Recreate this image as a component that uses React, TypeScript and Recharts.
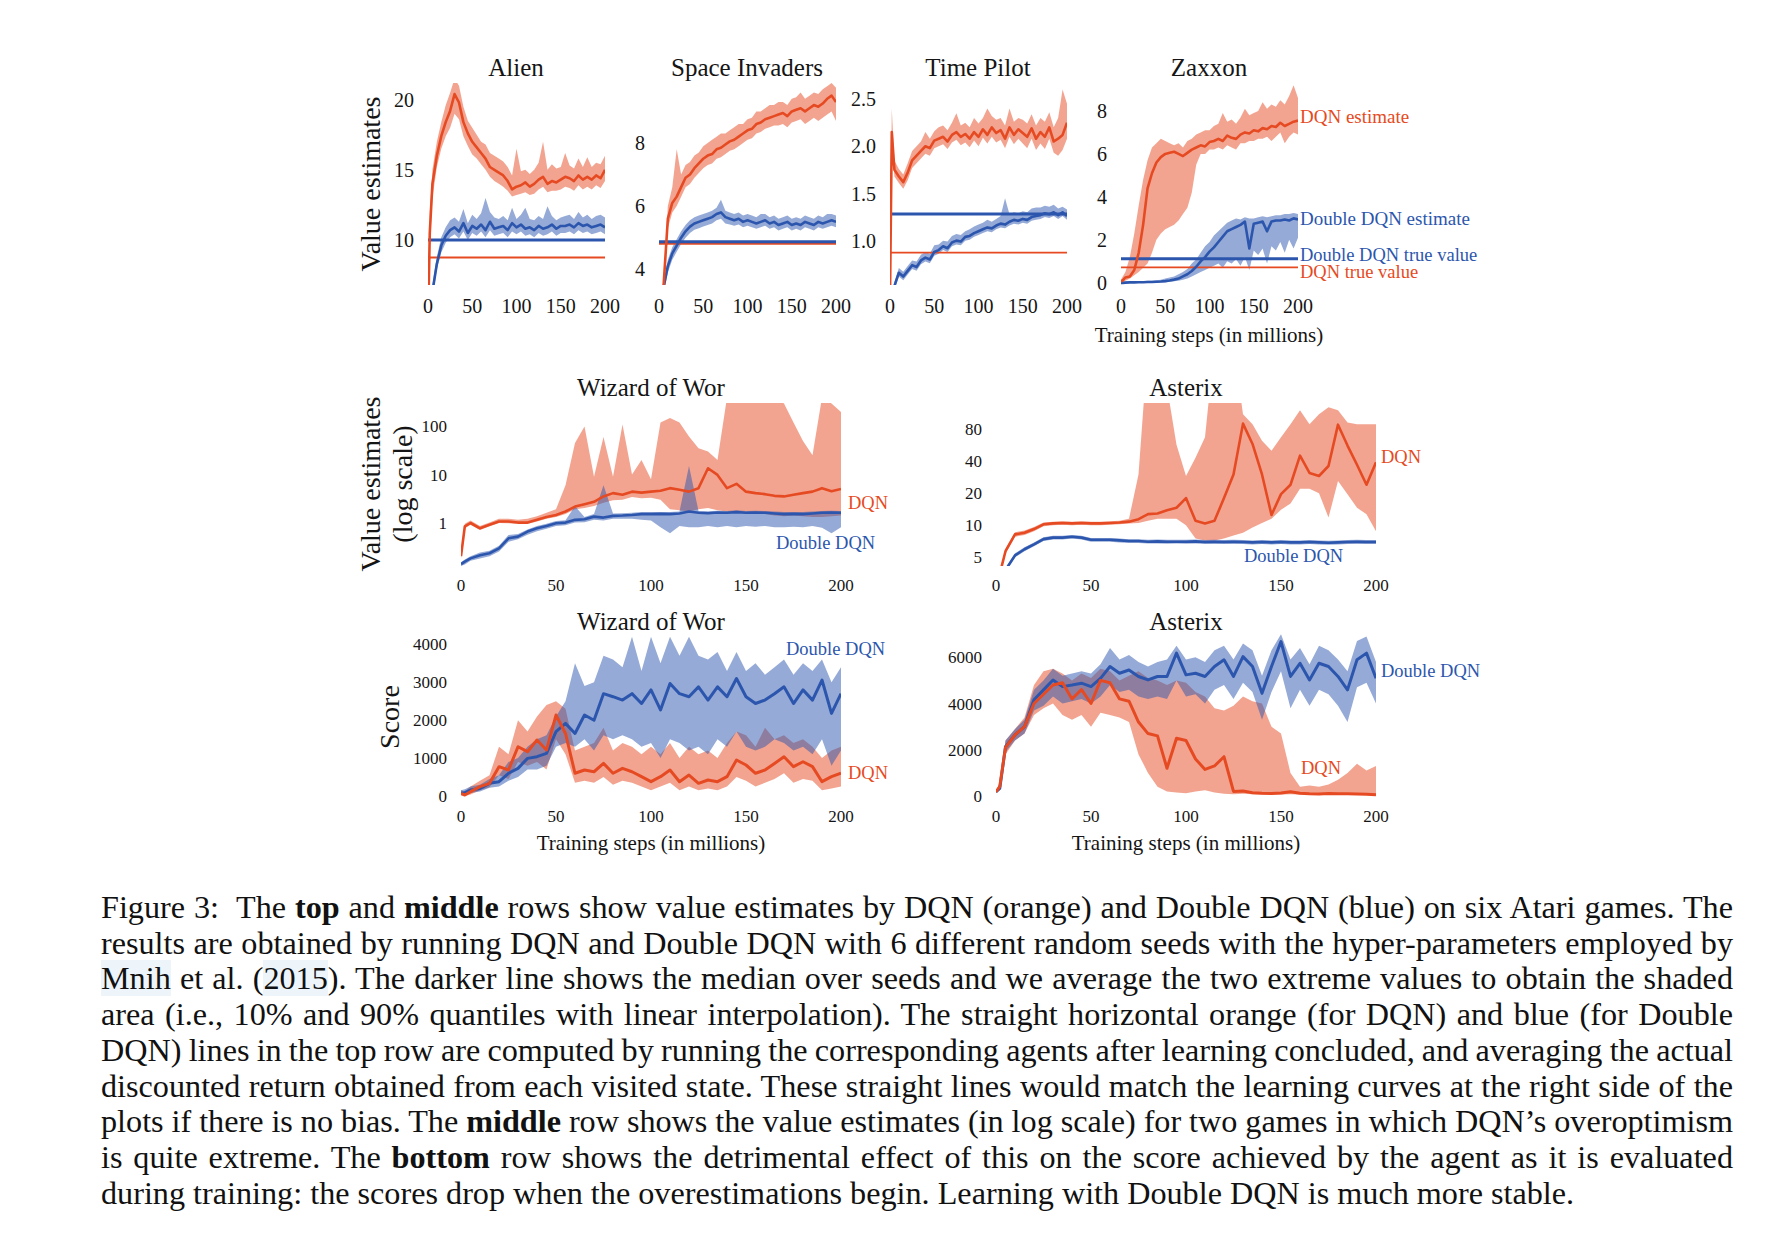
import React from "react";
import { ComposedChart, Area, Line, XAxis, YAxis, ReferenceLine } from "recharts";

const ORANGE = "#e64a22";
const BLUE = "#2c56ad";
const INK = "#151515";
const SERIF = "'Liberation Serif', 'Times New Roman', serif";

// training steps (millions), shared by every panel
const STEPS = [
  0, 2, 5, 10, 15, 20,
  25, 30, 35, 40, 45, 50,
  55, 60, 65, 70, 75, 80,
  85, 90, 95, 100, 105, 110,
  115, 120, 125, 130, 135, 140,
  145, 150, 155, 160, 165, 170,
  175, 180, 185, 190, 195, 200,
];
const X_TICKS = [0, 50, 100, 150, 200];

// ---- Alien ----
const ALIEN_TICKS = [10, 15, 20];
const ALIEN_DQN = [
  4.0, 10.5, 14.0, 16.0, 17.4, 18.4,
  19.2, 20.4, 19.8, 18.4, 17.6, 17.0,
  16.6, 16.2, 15.8, 15.2, 15.0, 14.8,
  14.6, 14.2, 13.6, 13.8, 13.9, 14.1,
  13.8, 14.0, 14.3, 14.5, 14.0, 14.2,
  14.1, 14.3, 14.5, 14.4, 14.2, 14.6,
  14.3, 14.5, 14.3, 14.6, 14.4, 15.0,
];
const ALIEN_DQN_LO = [
  3.5, 9.5, 13.0, 15.2, 16.5, 17.4,
  18.0, 19.0, 18.6, 17.4, 16.7, 16.1,
  15.8, 15.4, 15.0, 14.5, 14.2, 14.0,
  13.8, 13.5, 13.1, 13.2, 13.3, 13.4,
  13.2, 13.3, 13.6, 13.8, 13.4, 13.5,
  13.5, 13.6, 13.8, 13.7, 13.5, 13.9,
  13.6, 13.8, 13.6, 13.9, 13.7, 14.2,
];
const ALIEN_DQN_HI = [
  5.0, 12.0, 15.0, 17.0, 18.4, 19.6,
  20.5, 21.5, 21.0, 19.5, 18.5, 18.0,
  17.5, 17.0, 16.8, 16.2, 16.0, 15.8,
  15.6, 15.2, 14.6, 16.5, 14.9, 15.0,
  14.7, 15.0, 15.5, 17.0, 15.0, 15.4,
  15.1, 15.2, 16.2, 15.3, 15.1, 15.8,
  15.2, 15.9, 15.2, 15.5, 15.4, 16.0,
];
const ALIEN_DDQN = [
  3.0, 4.0, 6.3, 8.3, 9.6, 10.3,
  10.7, 10.9, 10.6, 11.2, 10.5, 11.0,
  10.8, 11.1, 10.7, 11.3, 10.8, 10.9,
  11.0, 10.7, 11.2, 10.9, 11.1, 10.8,
  10.9, 10.7, 11.0, 10.8, 10.9, 11.1,
  10.8, 11.0, 11.0, 11.1, 10.9, 11.2,
  11.0, 11.1, 10.9, 11.0, 11.1, 10.9,
];
const ALIEN_DDQN_LO = [
  2.8, 3.8, 5.9, 7.9, 9.1, 9.8,
  10.2, 10.4, 10.1, 10.6, 10.0, 10.5,
  10.3, 10.6, 10.2, 10.7, 10.3, 10.4,
  10.5, 10.2, 10.6, 10.4, 10.6, 10.3,
  10.4, 10.2, 10.5, 10.3, 10.4, 10.6,
  10.3, 10.5, 10.5, 10.6, 10.4, 10.7,
  10.5, 10.6, 10.4, 10.5, 10.6, 10.4,
];
const ALIEN_DDQN_HI = [
  3.2, 4.3, 6.8, 8.8, 10.2, 10.9,
  11.4, 11.6, 11.3, 12.2, 11.2, 11.8,
  11.5, 11.9, 13.0, 12.0, 11.6, 11.5,
  11.7, 11.4, 12.3, 11.5, 11.8, 12.3,
  11.5, 11.4, 11.7, 11.5, 12.4, 11.7,
  11.4, 11.6, 11.7, 11.8, 11.5, 12.0,
  11.6, 11.8, 11.5, 11.7, 11.8, 11.6,
];

// ---- Space Invaders ----
const SI_TICKS = [4, 6, 8];
const SI_DQN = [
  2.0, 2.8, 3.4, 5.6, 6.1, 6.3,
  6.6, 6.9, 7.0, 7.2, 7.35, 7.5,
  7.6, 7.65, 7.8, 7.85, 7.95, 8.05,
  8.1, 8.2, 8.3, 8.4, 8.45, 8.6,
  8.65, 8.75, 8.8, 8.85, 8.9, 8.95,
  8.85, 9.0, 9.05, 9.1, 9.0, 9.1,
  9.2, 9.15, 9.25, 9.4, 9.5, 9.3,
];
const SI_DQN_LO = [
  1.9, 2.6, 3.2, 5.3, 5.8, 6.0,
  6.3, 6.6, 6.7, 6.9, 7.05, 7.2,
  7.3, 7.35, 7.5, 7.55, 7.65, 7.75,
  7.8, 7.9, 8.0, 8.1, 8.15, 8.3,
  8.35, 8.45, 8.5, 8.55, 8.55, 8.6,
  8.5, 8.65, 8.7, 8.75, 8.6, 8.7,
  8.8, 8.7, 8.8, 8.9, 9.0, 8.7,
];
const SI_DQN_HI = [
  2.1, 3.0, 3.6, 6.0, 6.6, 7.8,
  7.0, 7.3, 7.4, 7.6, 7.7, 7.9,
  8.0, 8.1, 8.2, 8.3, 8.3, 8.4,
  8.5, 8.6, 8.6, 8.75, 8.8, 9.0,
  9.0, 9.1, 9.2, 9.2, 9.3, 9.3,
  9.2, 9.4, 9.45, 9.6, 9.4, 9.5,
  9.6, 9.55, 9.7, 9.8, 9.9, 9.75,
];
const SI_DDQN = [
  2.0, 2.6, 3.4, 4.1, 4.5, 4.75,
  5.0, 5.2, 5.35, 5.45, 5.5, 5.55,
  5.6, 5.65, 5.75, 5.8, 5.65, 5.6,
  5.55, 5.6, 5.5, 5.55, 5.5, 5.45,
  5.5, 5.55, 5.45, 5.5, 5.4, 5.45,
  5.5, 5.4, 5.45, 5.4, 5.5, 5.45,
  5.4, 5.5, 5.45, 5.5, 5.55, 5.5,
];
const SI_DDQN_LO = [
  1.9, 2.5, 3.2, 3.9, 4.3, 4.55,
  4.8, 5.0, 5.15, 5.25, 5.3, 5.35,
  5.4, 5.45, 5.55, 5.6, 5.45, 5.42,
  5.38, 5.42, 5.33, 5.38, 5.33, 5.28,
  5.33, 5.38, 5.28, 5.33, 5.23, 5.28,
  5.33, 5.23, 5.28, 5.23, 5.33, 5.28,
  5.23, 5.33, 5.28, 5.33, 5.38, 5.33,
];
const SI_DDQN_HI = [
  2.1, 2.7, 3.6, 4.3, 4.7, 4.95,
  5.2, 5.4, 5.55, 5.65, 5.7, 5.75,
  5.8, 5.85, 5.95, 6.2, 5.85, 5.8,
  5.75, 5.8, 5.7, 5.75, 5.7, 5.65,
  5.75, 5.75, 5.65, 5.7, 5.6, 5.65,
  5.7, 5.6, 5.65, 5.6, 5.7, 5.65,
  5.6, 5.7, 5.65, 5.75, 5.75, 5.7,
];

// ---- Time Pilot ----
const TP_TICKS = [1.0, 1.5, 2.0, 2.5];
const TP_DQN = [
  0.4, 2.15, 1.75, 1.68, 1.62, 1.72,
  1.85, 1.9, 1.95, 2.0, 1.98, 2.06,
  2.08, 2.1, 2.05, 2.12, 2.15, 2.1,
  2.13, 2.08, 2.15, 2.1, 2.18, 2.12,
  2.2, 2.14, 2.17, 2.08, 2.2, 2.12,
  2.18, 2.14, 2.1, 2.19, 2.08, 2.15,
  2.1, 2.2, 2.05, 2.08, 2.12, 2.25,
];
const TP_DQN_LO = [
  0.35, 2.0, 1.68, 1.61, 1.55, 1.64,
  1.77, 1.82, 1.87, 1.92, 1.9, 1.98,
  2.0, 2.02, 1.97, 2.04, 2.07, 2.01,
  2.04, 1.99, 2.06, 2.0, 2.09, 2.03,
  2.1, 2.04, 2.07, 1.98, 2.1, 2.02,
  2.08, 2.03, 1.98, 2.08, 1.96, 2.03,
  1.97, 2.08, 1.93, 1.9, 1.96, 2.08,
];
const TP_DQN_HI = [
  0.45, 2.4, 1.85, 1.76, 1.7, 1.82,
  1.95, 2.0, 2.05, 2.15, 2.08, 2.16,
  2.2, 2.22, 2.17, 2.25, 2.35, 2.22,
  2.25, 2.2, 2.3, 2.24, 2.3, 2.4,
  2.32, 2.28, 2.3, 2.22, 2.4, 2.26,
  2.3, 2.28, 2.24, 2.34, 2.22, 2.3,
  2.26, 2.36, 2.2, 2.3, 2.6, 2.45,
];
const TP_DDQN = [
  0.2, 0.35, 0.52, 0.66, 0.62, 0.68,
  0.74, 0.72, 0.79, 0.82, 0.8, 0.88,
  0.9, 0.94, 0.92, 0.98, 1.0, 0.99,
  1.04, 1.05, 1.08, 1.1, 1.12, 1.14,
  1.13, 1.16, 1.18, 1.17, 1.2, 1.22,
  1.21, 1.23, 1.22, 1.25, 1.26, 1.27,
  1.29, 1.28, 1.3, 1.27, 1.3, 1.26,
];
const TP_DDQN_LO = [
  0.18, 0.32, 0.48, 0.62, 0.58, 0.64,
  0.7, 0.68, 0.75, 0.78, 0.76, 0.84,
  0.86, 0.9, 0.88, 0.94, 0.96, 0.95,
  1.0, 1.01, 1.04, 1.06, 1.08, 1.1,
  1.09, 1.12, 1.14, 1.13, 1.16, 1.18,
  1.17, 1.19, 1.18, 1.21, 1.22, 1.23,
  1.25, 1.24, 1.26, 1.23, 1.26, 1.22,
];
const TP_DDQN_HI = [
  0.22, 0.38, 0.56, 0.71, 0.67, 0.73,
  0.79, 0.78, 0.85, 0.88, 0.86, 0.95,
  0.96, 1.0, 0.99, 1.05, 1.07, 1.06,
  1.1, 1.12, 1.15, 1.17, 1.19, 1.22,
  1.2, 1.23, 1.26, 1.45, 1.28, 1.3,
  1.29, 1.31, 1.3, 1.34, 1.35, 1.35,
  1.37, 1.36, 1.38, 1.34, 1.36, 1.33,
];

// ---- Zaxxon ----
const ZAX_TICKS = [0, 2, 4, 6, 8];
const ZAX_DQN = [
  0.05, 0.12, 0.25, 0.3, 0.6, 1.4,
  2.7, 4.4, 5.1, 5.6, 5.85, 6.0,
  6.05, 6.1, 6.0, 5.9, 6.05, 6.2,
  6.3, 6.4, 6.35, 6.55, 6.6, 6.7,
  6.6, 6.85, 6.75, 6.7, 6.9, 7.0,
  6.95, 7.1, 7.05, 7.2, 7.15, 7.3,
  7.25, 7.45, 7.3, 7.4, 7.5, 7.55,
];
const ZAX_DQN_LO = [
  0.0, 0.05, 0.1, 0.2, 0.35, 0.5,
  0.7, 0.9, 1.4, 2.0, 2.3, 2.5,
  2.6, 2.7, 2.9, 3.2, 3.5, 4.2,
  5.5, 6.0, 6.0, 6.2, 6.2, 6.3,
  6.2, 6.4, 6.3, 6.2, 6.5, 6.5,
  6.6, 6.6, 6.7, 6.7, 6.8, 6.6,
  6.8, 7.0, 6.5, 6.8, 7.0, 6.9,
];
const ZAX_DQN_HI = [
  0.15, 0.3, 0.5, 1.2, 2.3, 3.6,
  4.8, 5.7, 6.3, 6.5, 6.7, 6.6,
  6.5, 6.4, 6.5, 6.3, 6.6, 6.7,
  6.9, 7.0, 7.1, 7.1, 7.3, 7.4,
  7.9, 7.5, 7.6, 7.4, 7.7, 8.1,
  7.8, 7.9, 8.0, 8.4, 8.1, 8.3,
  8.2, 8.5, 8.3, 8.7, 9.2, 8.6,
];
const ZAX_DDQN = [
  0.0, 0.0, 0.01, 0.02, 0.02, 0.03,
  0.03, 0.04, 0.04, 0.05, 0.06, 0.08,
  0.11, 0.15, 0.2, 0.3, 0.4, 0.55,
  0.75, 1.0, 1.2, 1.45, 1.65, 1.9,
  2.15, 2.4, 2.5, 2.6, 2.7, 2.85,
  1.6, 2.75, 2.8, 2.85, 2.4, 2.85,
  2.9, 2.9, 2.95, 2.9, 3.0, 2.95,
];
const ZAX_DDQN_LO = [
  0.0, 0.0, 0.0, 0.0, 0.0, 0.0,
  0.0, 0.0, 0.0, 0.01, 0.02, 0.03,
  0.05, 0.07, 0.1, 0.15, 0.2, 0.3,
  0.4, 0.5, 0.6, 0.7, 0.8, 0.9,
  0.7, 1.0, 0.9, 1.1, 0.8, 1.2,
  0.6, 1.5, 1.3, 1.6, 0.9, 1.7,
  1.5, 1.9, 1.4, 2.0, 1.6, 2.1,
];
const ZAX_DDQN_HI = [
  0.05, 0.05, 0.06, 0.06, 0.07, 0.08,
  0.08, 0.1, 0.1, 0.12, 0.15, 0.2,
  0.25, 0.3, 0.4, 0.5, 0.65, 0.9,
  1.1, 1.4, 1.7, 1.9, 2.2, 2.4,
  2.6, 2.8, 2.9, 3.0, 2.95, 3.05,
  3.0, 3.0, 3.05, 3.1, 3.05, 3.1,
  3.15, 3.15, 3.2, 3.2, 3.25, 3.2,
];

// ---- Wizard of Wor, value estimates (log) ----
const WIZ_LOG_TICKS = [1, 10, 100];
const WIZ_V_DQN = [
  0.2, 0.83, 0.98, 0.76, 0.9, 1.05,
  1.05, 1.0, 1.0, 1.14, 1.3, 1.44,
  1.7, 2.15, 2.4, 2.7, 3.5, 4.1,
  3.8, 4.4, 4.2, 4.4, 4.6, 5.2,
  4.8, 4.4, 5.2, 13.5, 9.8, 5.2,
  6.4, 4.4, 4.1, 3.9, 3.6, 3.5,
  3.8, 4.1, 4.4, 5.2, 4.5, 5.0,
];
const WIZ_V_DQN_LO = [
  0.18, 0.75, 0.9, 0.7, 0.84, 0.98,
  0.97, 0.93, 0.93, 1.05, 1.2, 1.3,
  1.5, 1.9, 2.0, 2.2, 2.6, 2.9,
  3.0, 3.4, 3.2, 3.3, 3.0, 1.9,
  1.8, 1.7, 1.9, 2.0, 1.8, 1.7,
  1.6, 1.7, 1.6, 1.5, 1.4, 1.35,
  1.4, 1.35, 1.3, 1.3, 1.35, 1.4,
];
const WIZ_V_DQN_HI = [
  0.23, 0.95, 1.1, 0.85, 1.0, 1.2,
  1.2, 1.15, 1.2, 1.35, 1.6, 1.9,
  6.0, 45, 100, 9.0, 60, 9.0,
  110, 10, 20, 8.0, 120, 150,
  120, 62, 35, 30, 20, 400,
  400, 400, 400, 400, 400, 300,
  120, 50, 25, 400, 300, 200,
];
const WIZ_V_DDQN = [
  0.137, 0.154, 0.18, 0.21, 0.23, 0.29,
  0.47, 0.51, 0.65, 0.76, 0.85, 0.97,
  1.0, 1.14, 1.17, 1.33, 1.27, 1.38,
  1.4, 1.44, 1.5, 1.5, 1.52, 1.5,
  1.55, 1.7, 1.6, 1.56, 1.62, 1.6,
  1.65, 1.6, 1.62, 1.6, 1.55, 1.5,
  1.52, 1.5, 1.55, 1.6, 1.62, 1.6,
];
const WIZ_V_DDQN_LO = [
  0.125, 0.135, 0.16, 0.18, 0.2, 0.25,
  0.4, 0.45, 0.56, 0.66, 0.74, 0.85,
  0.88, 1.0, 1.02, 1.15, 1.1, 1.2,
  1.2, 1.2, 1.15, 1.1, 0.8, 0.6,
  0.85, 0.8, 0.8, 0.85, 0.8, 0.85,
  0.8, 0.85, 0.82, 0.85, 0.8, 0.8,
  0.82, 0.8, 0.85, 0.78, 0.6, 0.8,
];
const WIZ_V_DDQN_HI = [
  0.15, 0.17, 0.2, 0.24, 0.26, 0.33,
  0.55, 0.58, 0.72, 0.85, 0.95, 1.08,
  1.12, 2.2, 1.3, 1.5, 6.0, 1.55,
  1.56, 1.6, 1.65, 1.65, 1.66, 1.65,
  1.7, 15, 1.75, 1.72, 1.76, 1.75,
  1.8, 1.75, 1.76, 1.74, 1.7, 1.66,
  1.66, 1.65, 1.7, 1.74, 1.76, 1.74,
];

// ---- Asterix, value estimates (log) ----
const AST_LOG_TICKS = [5, 10, 20, 40, 80];
const AST_V_DQN = [
  3.0, 3.5, 5.7, 8.2, 8.5, 9.2,
  10.2, 10.4, 10.5, 10.4, 10.5, 10.4,
  10.4, 10.5, 10.6, 10.8, 11.4, 12.7,
  12.9, 13.8, 14.6, 18.0, 11.0, 10.4,
  11.0, 18.0, 30, 90, 58, 30,
  12.5, 19.6, 24, 45, 31, 29,
  36, 88, 56, 37, 24, 39,
];
const AST_V_DQN_LO = [
  2.9, 3.4, 5.4, 7.8, 8.1, 8.8,
  9.8, 10.0, 10.1, 10.0, 10.1, 10.0,
  10.0, 10.1, 10.2, 10.4, 10.5, 11.0,
  11.5, 11.5, 11.5, 10.0, 7.5, 7.2,
  7.2, 7.5, 8.0, 8.5, 9.5, 10.5,
  11.5, 14, 16, 22, 22, 20,
  11.8, 26, 19.5, 14.6, 12.7, 8.8,
];
const AST_V_DQN_HI = [
  3.1, 3.6, 6.0, 8.6, 8.9, 9.6,
  10.6, 10.8, 10.9, 10.8, 10.9, 10.8,
  10.8, 10.9, 11.0, 11.5, 30, 500,
  500, 200, 57, 29, 43, 67,
  500, 500, 500, 110, 89, 62,
  50, 67, 89, 120, 89, 110,
  128, 120, 92, 89, 89, 89,
];
const AST_V_DDQN = [
  3.0, 3.2, 3.8, 5.2, 5.95, 6.6,
  7.4, 7.65, 7.65, 7.8, 7.65, 7.3,
  7.3, 7.3, 7.2, 7.1, 7.1, 7.0,
  7.05, 7.0, 7.0, 7.0, 7.05, 6.95,
  7.0, 6.95, 7.0, 6.95, 6.9, 6.95,
  6.9, 6.95, 6.9, 6.9, 6.95, 6.9,
  6.85, 6.9, 6.95, 7.0, 6.95, 6.95,
];
const AST_V_DDQN_LO = [
  2.9, 3.1, 3.65, 5.0, 5.7, 6.35,
  7.1, 7.35, 7.35, 7.5, 7.35, 7.0,
  7.0, 7.0, 6.9, 6.8, 6.8, 6.75,
  6.75, 6.7, 6.75, 6.7, 6.75, 6.65,
  6.7, 6.65, 6.7, 6.65, 6.6, 6.65,
  6.6, 6.65, 6.6, 6.6, 6.65, 6.6,
  6.55, 6.6, 6.65, 6.7, 6.65, 6.65,
];
const AST_V_DDQN_HI = [
  3.1, 3.3, 3.95, 5.45, 6.2, 6.9,
  7.7, 7.95, 7.95, 8.1, 7.95, 7.6,
  7.6, 7.6, 7.5, 7.4, 7.4, 7.3,
  7.35, 7.3, 7.3, 7.3, 7.35, 7.25,
  7.3, 7.25, 7.3, 7.25, 7.2, 7.25,
  7.2, 7.25, 7.2, 7.2, 7.25, 7.2,
  7.15, 7.2, 7.25, 7.3, 7.25, 7.25,
];

// ---- Wizard of Wor, score ----
const WIZ_SCORE_TICKS = [0, 1000, 2000, 3000, 4000];
const WIZ_S_DQN = [
  70, 26, 114, 246, 334, 774,
  686, 1300, 1169, 1477, 1213, 2136,
  1650, 600, 686, 640, 860, 600,
  730, 640, 510, 378, 510, 686,
  378, 554, 334, 422, 378, 510,
  950, 818, 600, 686, 860, 1037,
  774, 905, 774, 378, 510, 600,
];
const WIZ_S_DQN_LO = [
  20, 0, 40, 150, 230, 550,
  450, 900, 800, 900, 700, 1500,
  1100, 350, 400, 350, 500, 300,
  400, 350, 250, 150, 250, 350,
  150, 250, 150, 200, 150, 250,
  500, 400, 250, 350, 450, 600,
  350, 450, 400, 150, 200, 250,
];
const WIZ_S_DQN_HI = [
  150, 120, 250, 400, 550, 1300,
  1100, 2000, 1700, 2100, 2400, 2500,
  2300, 1200, 1300, 1400, 1800, 1200,
  1400, 1300, 1100, 1300, 1100, 1400,
  1000, 1300, 1100, 1200, 1000, 1400,
  1700, 1600, 1300, 1800, 1500, 1600,
  1400, 1500, 1300, 1000, 1200, 1300,
];
const WIZ_S_DDQN = [
  70, 90, 158, 200, 334, 378,
  600, 730, 993, 1037, 1125, 1700,
  1916, 1650, 2136, 2000, 2700, 2620,
  2530, 2700, 2440, 2800, 2270, 2970,
  2700, 2620, 2880, 2530, 2880, 2620,
  3100, 2620, 2440, 2530, 2700, 2880,
  2440, 2800, 2530, 3060, 2180, 2700,
];
const WIZ_S_DDQN_LO = [
  20, 40, 80, 120, 220, 250,
  400, 500, 700, 700, 800, 1300,
  1400, 1300, 1500, 1200, 1600, 1500,
  1600, 1500, 1300, 1400, 1000, 1500,
  1400, 1200, 1300, 1100, 1500, 1300,
  1700, 1300, 1200, 1300, 1500, 1400,
  1200, 1300, 1100, 1500, 800, 1200,
];
const WIZ_S_DDQN_HI = [
  150, 180, 250, 300, 450, 550,
  900, 1000, 1300, 1500, 1600, 2100,
  2500, 3500, 2900, 3000, 3700, 3600,
  3400, 4200, 3300, 4200, 3500, 4200,
  3700, 4200, 3700, 3600, 3800, 3300,
  3800, 3300, 3500, 3200, 3400, 3600,
  3200, 3500, 3300, 3600, 3000, 3400,
];

// ---- Asterix, score ----
const AST_SCORE_TICKS = [0, 2000, 4000, 6000];
const AST_S_DQN = [
  180, 420, 2100, 2640, 3000, 4000,
  4400, 4800, 4900, 4200, 4600, 4000,
  5000, 4900, 4200, 4100, 3200, 2700,
  2600, 1200, 2500, 2400, 1600, 1150,
  1300, 1700, 200, 220, 140, 120,
  110, 130, 180, 120, 100, 90,
  110, 100, 95, 90, 80, 50,
];
const AST_S_DQN_LO = [
  120, 300, 1800, 2400, 2700, 3500,
  3800, 4000, 3500, 3300, 3500, 3000,
  3600, 3500, 3400, 3200, 1800, 1000,
  400, 200, 150, 120, 200, 250,
  150, 100, 80, 100, 80, 60,
  60, 70, 80, 60, 50, 60,
  50, 60, 50, 40, 40, 30,
];
const AST_S_DQN_HI = [
  250, 550, 2400, 2900, 3400, 4800,
  5400, 5500, 5300, 5000, 5300, 5100,
  5500, 5400, 5000, 5200, 5400, 5100,
  5000, 4800, 5000, 4900, 4500, 4300,
  3800, 3700, 3900, 4300, 4100, 4000,
  3000, 2700, 1000, 400, 450, 400,
  500, 700, 1000, 1400, 1100, 1300,
];
const AST_S_DDQN = [
  188, 330, 2136, 2640, 3000, 4160,
  4590, 5020, 4730, 4800, 4880, 4730,
  5090, 5600, 5310, 5450, 5170, 5020,
  5170, 5170, 6180, 5240, 5310, 5170,
  5600, 5890, 5170, 6030, 5600, 4440,
  5600, 6680, 5170, 5740, 5020, 5740,
  5600, 5170, 4590, 5890, 6180, 5090,
];
const AST_S_DDQN_LO = [
  120, 250, 1900, 2400, 2700, 3700,
  3900, 4300, 4000, 4100, 4200, 4000,
  4300, 4800, 4500, 4600, 4300, 4200,
  4300, 4200, 5000, 4300, 4400, 4000,
  4600, 4800, 4200, 4900, 4500, 3300,
  4500, 5400, 3800, 4600, 3900, 4600,
  4400, 3900, 3200, 4700, 4900, 4000,
];
const AST_S_DDQN_HI = [
  250, 450, 2400, 2900, 3300, 4600,
  5000, 5500, 5200, 5300, 5400, 5300,
  5700, 6400, 5900, 6100, 5800, 5600,
  5800, 5900, 6500, 5900, 6000, 5800,
  6300, 6500, 5900, 6600, 6300, 5200,
  6300, 7000, 5900, 6400, 5700, 6500,
  6300, 5900, 5400, 6700, 6900, 5800,
];

const CAPTION = [
  "Figure 3:\u00a0 The **top** and **middle** rows show value estimates by DQN (orange) and Double DQN (blue) on six Atari games. The",
  "results are obtained by running DQN and Double DQN with 6 different random seeds with the hyper-parameters employed by",
  "^^Mnih^^ et al. (^^2015^^). The darker line shows the median over seeds and we average the two extreme values to obtain the shaded",
  "area (i.e., 10% and 90% quantiles with linear interpolation). The straight horizontal orange (for DQN) and blue (for Double",
  "DQN) lines in the top row are computed by running the corresponding agents after learning concluded, and averaging the actual",
  "discounted return obtained from each visited state. These straight lines would match the learning curves at the right side of the",
  "plots if there is no bias. The **middle** row shows the value estimates (in log scale) for two games in which DQN\u2019s overoptimism",
  "is quite extreme. The **bottom** row shows the detrimental effect of this on the score achieved by the agent as it is evaluated",
  "during training: the scores drop when the overestimations begin. Learning with Double DQN is much more stable.",
];

type Row = {
  x: number;
  dqn: number;
  dqnBand: [number, number];
  ddqn: number;
  ddqnBand: [number, number];
};

function rows(
  dqn: number[], dqnLo: number[], dqnHi: number[],
  ddqn: number[], ddqnLo: number[], ddqnHi: number[]
): Row[] {
  return STEPS.map((x, i) => ({
    x,
    dqn: dqn[i],
    dqnBand: [dqnLo[i], dqnHi[i]],
    ddqn: ddqn[i],
    ddqnBand: [ddqnLo[i], ddqnHi[i]],
  }));
}

type Box = { left: number; top: number; width: number; height: number };
type Ref = { y: number; color: string; width: number };

const YW = 70;
const XH = 45;
const MT = 12;
const MR = 30;

function Panel({
  box, data, domain, ticks, log = false, fontSize, xMargin, lineWidth, refs = [], fmt,
}: {
  box: Box; data: Row[]; domain: [number, number]; ticks: number[]; log?: boolean;
  fontSize: number; xMargin: number; lineWidth: number; refs?: Ref[];
  fmt?: (v: number) => string;
}) {
  const tick = { fontSize, fill: INK, fontFamily: SERIF };
  return (
    <div style={{ position: "absolute", left: box.left - YW, top: box.top - MT }}>
      <ComposedChart
        width={box.width + YW + MR}
        height={box.height + MT + XH}
        data={data}
        margin={{ top: MT, right: MR, bottom: 0, left: 0 }}
      >
        <XAxis
          dataKey="x"
          type="number"
          domain={[0, 200]}
          ticks={X_TICKS}
          interval={0}
          allowDataOverflow
          axisLine={false}
          tickLine={false}
          tickSize={0}
          tickMargin={xMargin}
          height={XH}
          tick={tick}
        />
        <YAxis
          type="number"
          scale={log ? "log" : "linear"}
          domain={domain}
          ticks={ticks}
          interval={0}
          allowDataOverflow
          axisLine={false}
          tickLine={false}
          tickSize={0}
          tickMargin={14}
          width={YW}
          tick={tick}
          tickFormatter={fmt}
        />
        <Area dataKey="dqnBand" type="linear" stroke="none" fill={ORANGE} fillOpacity={0.5} isAnimationActive={false} />
        <Area dataKey="ddqnBand" type="linear" stroke="none" fill={BLUE} fillOpacity={0.5} isAnimationActive={false} />
        {refs.map((r, i) => (
          <ReferenceLine key={i} y={r.y} stroke={r.color} strokeWidth={r.width} />
        ))}
        <Line dataKey="ddqn" type="linear" stroke={BLUE} strokeWidth={lineWidth} dot={false} strokeLinejoin="round" isAnimationActive={false} />
        <Line dataKey="dqn" type="linear" stroke={ORANGE} strokeWidth={lineWidth} dot={false} strokeLinejoin="round" isAnimationActive={false} />
      </ComposedChart>
    </div>
  );
}

function Txt({
  x, y, size, color = INK, center = true, rotate = false, children,
}: {
  x: number; y: number; size: number; color?: string; center?: boolean; rotate?: boolean;
  children: React.ReactNode;
}) {
  const t = rotate
    ? "translate(-50%,-50%) rotate(-90deg)"
    : center ? "translate(-50%,-50%)" : "translateY(-50%)";
  return (
    <div
      style={{
        position: "absolute", left: x, top: y, transform: t, whiteSpace: "nowrap",
        fontFamily: SERIF, fontSize: size, lineHeight: 1, color,
      }}
    >
      {children}
    </div>
  );
}

function CaptionLine({ text, last }: { text: string; last: boolean }) {
  // **bold**, ^^link highlight^^
  const parts = text.split(/(\*\*[^*]+\*\*|\^\^[^^]+\^\^)/).filter(Boolean);
  return (
    <div
      style={{
        whiteSpace: "nowrap",
        textAlign: last ? "left" : "justify",
        textAlignLast: last ? "auto" : "justify",
        wordSpacing: last ? 0 : "-2px",
      }}
    >
      {parts.map((p, i) => {
        if (p.startsWith("**")) return <b key={i}>{p.slice(2, -2)}</b>;
        if (p.startsWith("^^")) return <span key={i} style={{ background: "#edf5fb" }}>{p.slice(2, -2)}</span>;
        return <span key={i}>{p}</span>;
      })}
    </div>
  );
}

const TOP = { top: 83, height: 202 };
const MID = { top: 403, height: 163 };
const BOT = { top: 634, height: 165.5 };
const W_TOP = 177;
const W_WIDE = 380;

export default function App() {
  const alien = rows(ALIEN_DQN, ALIEN_DQN_LO, ALIEN_DQN_HI, ALIEN_DDQN, ALIEN_DDQN_LO, ALIEN_DDQN_HI);
  const si = rows(SI_DQN, SI_DQN_LO, SI_DQN_HI, SI_DDQN, SI_DDQN_LO, SI_DDQN_HI);
  const tp = rows(TP_DQN, TP_DQN_LO, TP_DQN_HI, TP_DDQN, TP_DDQN_LO, TP_DDQN_HI);
  const zax = rows(ZAX_DQN, ZAX_DQN_LO, ZAX_DQN_HI, ZAX_DDQN, ZAX_DDQN_LO, ZAX_DDQN_HI);
  const wizV = rows(WIZ_V_DQN, WIZ_V_DQN_LO, WIZ_V_DQN_HI, WIZ_V_DDQN, WIZ_V_DDQN_LO, WIZ_V_DDQN_HI);
  const astV = rows(AST_V_DQN, AST_V_DQN_LO, AST_V_DQN_HI, AST_V_DDQN, AST_V_DDQN_LO, AST_V_DDQN_HI);
  const wizS = rows(WIZ_S_DQN, WIZ_S_DQN_LO, WIZ_S_DQN_HI, WIZ_S_DDQN, WIZ_S_DDQN_LO, WIZ_S_DDQN_HI);
  const astS = rows(AST_S_DQN, AST_S_DQN_LO, AST_S_DQN_HI, AST_S_DDQN, AST_S_DDQN_LO, AST_S_DDQN_HI);

  const thick = 3;
  const thin = 1.8;

  return (
    <div style={{ position: "absolute", left: 0, top: 0, width: 1788, height: 1258, background: "#fff", overflow: "hidden" }}>
      {/* top row */}
      <Panel box={{ left: 428, width: W_TOP, ...TOP }} data={alien} domain={[6.79, 21.19]} ticks={ALIEN_TICKS}
        fontSize={20} xMargin={14} lineWidth={2.6}
        refs={[{ y: 8.75, color: ORANGE, width: thin }, { y: 10.0, color: BLUE, width: thick }]} />
      <Panel box={{ left: 659, width: W_TOP, ...TOP }} data={si} domain={[3.5, 9.9]} ticks={SI_TICKS}
        fontSize={20} xMargin={14} lineWidth={2.6}
        refs={[{ y: 4.8, color: ORANGE, width: thin }, { y: 4.87, color: BLUE, width: thick }]} />
      <Panel box={{ left: 890, width: W_TOP, ...TOP }} data={tp} domain={[0.53, 2.67]} ticks={TP_TICKS}
        fontSize={20} xMargin={14} lineWidth={2.6} fmt={(v) => v.toFixed(1)}
        refs={[{ y: 0.873, color: ORANGE, width: thin }, { y: 1.283, color: BLUE, width: thick }]} />
      <Panel box={{ left: 1121, width: W_TOP, ...TOP }} data={zax} domain={[-0.1, 9.3]} ticks={ZAX_TICKS}
        fontSize={20} xMargin={14} lineWidth={2.6}
        refs={[{ y: 0.72, color: ORANGE, width: thin }, { y: 1.12, color: BLUE, width: thick }]} />

      <Txt x={516} y={67} size={25}>Alien</Txt>
      <Txt x={747} y={67} size={25}>Space Invaders</Txt>
      <Txt x={978} y={67} size={25}>Time Pilot</Txt>
      <Txt x={1209} y={67} size={25}>Zaxxon</Txt>
      <Txt x={371} y={184} size={28} rotate>Value estimates</Txt>
      <Txt x={1209} y={335} size={21}>Training steps (in millions)</Txt>
      <Txt x={1300} y={116} size={19} color={ORANGE} center={false}>DQN estimate</Txt>
      <Txt x={1300} y={218} size={19} color={BLUE} center={false}>Double DQN estimate</Txt>
      <Txt x={1300} y={254.5} size={18.5} color={BLUE} center={false}>Double DQN true value</Txt>
      <Txt x={1300} y={272} size={18.5} color={ORANGE} center={false}>DQN true value</Txt>

      {/* middle row */}
      <Panel box={{ left: 461, width: W_WIDE, ...MID }} data={wizV} domain={[0.125, 307]} ticks={WIZ_LOG_TICKS} log
        fontSize={17} xMargin={12.5} lineWidth={2.6} />
      <Panel box={{ left: 996, width: W_WIDE, ...MID }} data={astV} domain={[4.14, 140.6]} ticks={AST_LOG_TICKS} log
        fontSize={17} xMargin={12.5} lineWidth={2.6} />
      <Txt x={651} y={387} size={25}>Wizard of Wor</Txt>
      <Txt x={1186} y={387} size={25}>Asterix</Txt>
      <Txt x={371} y={484} size={28} rotate>Value estimates</Txt>
      <Txt x={403} y={484} size={28} rotate>(log scale)</Txt>
      <Txt x={848} y={503} size={18.5} color={ORANGE} center={false}>DQN</Txt>
      <Txt x={776} y={543} size={18.5} color={BLUE} center={false}>Double DQN</Txt>
      <Txt x={1381} y={457} size={18.5} color={ORANGE} center={false}>DQN</Txt>
      <Txt x={1244} y={556} size={18.5} color={BLUE} center={false}>Double DQN</Txt>

      {/* bottom row */}
      <Panel box={{ left: 461, width: W_WIDE, ...BOT }} data={wizS} domain={[-92, 4274]} ticks={WIZ_SCORE_TICKS}
        fontSize={17} xMargin={10.7} lineWidth={3} />
      <Panel box={{ left: 996, width: W_WIDE, ...BOT }} data={astS} domain={[-151, 7007]} ticks={AST_SCORE_TICKS}
        fontSize={17} xMargin={10.7} lineWidth={3} />
      <Txt x={651} y={621} size={25}>Wizard of Wor</Txt>
      <Txt x={1186} y={621} size={25}>Asterix</Txt>
      <Txt x={390} y={717} size={28} rotate>Score</Txt>
      <Txt x={651} y={843} size={21}>Training steps (in millions)</Txt>
      <Txt x={1186} y={843} size={21}>Training steps (in millions)</Txt>
      <Txt x={786} y={649} size={18.5} color={BLUE} center={false}>Double DQN</Txt>
      <Txt x={848} y={773} size={18.5} color={ORANGE} center={false}>DQN</Txt>
      <Txt x={1381} y={671} size={18.5} color={BLUE} center={false}>Double DQN</Txt>
      <Txt x={1301} y={768} size={18.5} color={ORANGE} center={false}>DQN</Txt>

      {/* caption */}
      <div style={{ position: "absolute", left: 101, top: 890, width: 1632, fontFamily: SERIF, fontSize: 32.2, lineHeight: "35.7px", color: "#111" }}>
        {CAPTION.map((ln, i) => (
          <CaptionLine key={i} text={ln} last={i === CAPTION.length - 1} />
        ))}
      </div>
    </div>
  );
}
